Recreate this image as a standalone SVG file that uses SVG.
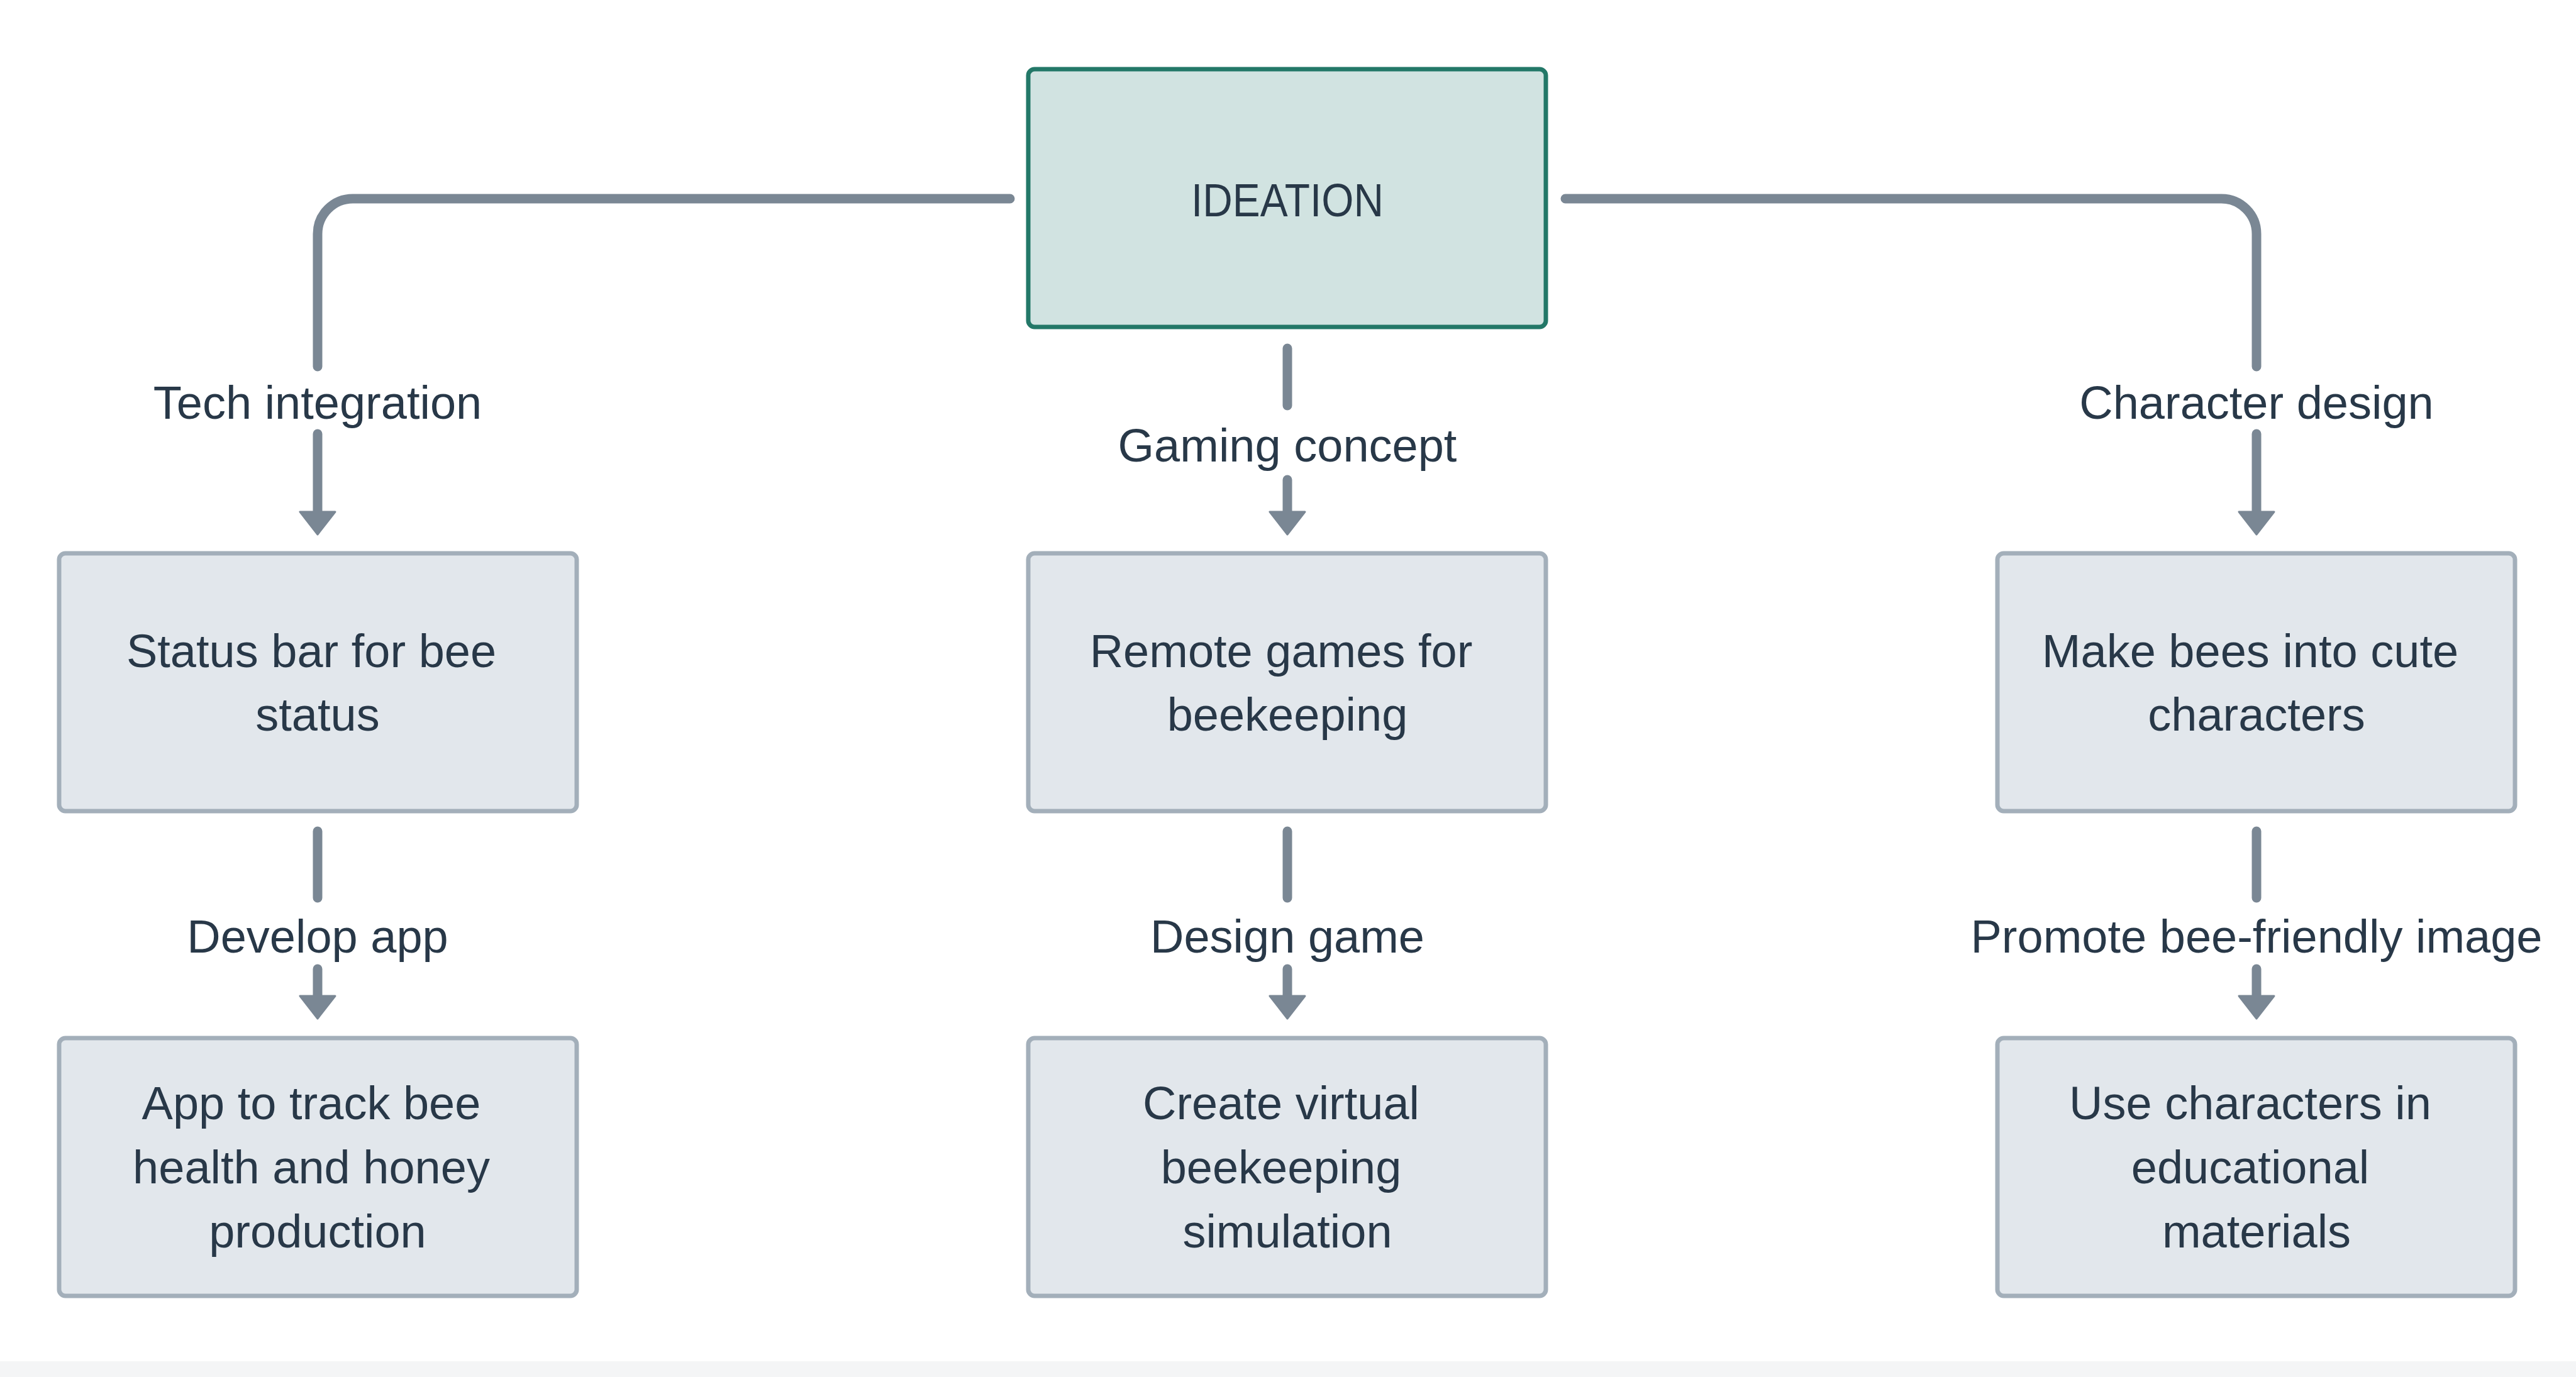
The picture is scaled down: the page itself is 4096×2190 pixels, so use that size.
<svg xmlns="http://www.w3.org/2000/svg" width="4096" height="2190" viewBox="0 0 4096 2190">
<style>
text{font-family:"Liberation Sans",Arial,sans-serif;font-size:74px;fill:#283848;text-anchor:middle}
.node{fill:#e2e7ec;stroke:#a3afba;stroke-width:7}
.root{fill:#d1e3e1;stroke:#237868;stroke-width:7}
.conn{fill:none;stroke:#7a8794;stroke-width:15;stroke-linecap:round;stroke-linejoin:round}
.arr{marker-end:url(#ah)}
</style>
<defs>
<marker id="ah" markerUnits="userSpaceOnUse" markerWidth="60" markerHeight="64" viewBox="0 0 60 64" refX="18" refY="32" orient="auto">
<path d="M2,4 L38,32 L2,60 Z" fill="#7a8794" stroke="#7a8794" stroke-width="3" stroke-linejoin="round"/>
</marker>
</defs>
<rect x="0" y="0" width="4096" height="2190" fill="#ffffff"/>
<rect x="0" y="2165" width="4096" height="25" fill="#f4f5f6"/>
<g id="connectors">
<path class="conn" d="M1606,316 H561 A56,56 0 0 0 505,372 V583"/>
<path class="conn arr" d="M505,690 V830"/>
<path class="conn" d="M2047,554 V645"/>
<path class="conn arr" d="M2047,763 V830"/>
<path class="conn" d="M2489,316 H3532 A56,56 0 0 1 3588,372 V583"/>
<path class="conn arr" d="M3588,690 V830"/>
<path class="conn" d="M505,1322 V1428"/>
<path class="conn arr" d="M505,1541 V1600"/>
<path class="conn" d="M2047,1322 V1428"/>
<path class="conn arr" d="M2047,1541 V1600"/>
<path class="conn" d="M3588,1322 V1428"/>
<path class="conn arr" d="M3588,1541 V1600"/>
<text x="505" y="666">Tech integration</text>
<text x="2047" y="734">Gaming concept</text>
<text x="3588" y="666">Character design</text>
<text x="505" y="1515">Develop app</text>
<text x="2047" y="1515">Design game</text>
<text x="3588" y="1515">Promote bee-friendly image</text>
</g>
<g id="ideation">
<rect class="root" x="1635" y="110" width="823" height="410" rx="10"/>
<text x="2047" y="344" textLength="306" lengthAdjust="spacingAndGlyphs">IDEATION</text>
</g>
<g id="status-bar">
<rect class="node" x="94" y="880" width="823" height="410" rx="10"/>
<text x="495" y="1061">Status bar for bee</text>
<text x="505" y="1162">status</text>
</g>
<g id="remote-games">
<rect class="node" x="1635" y="880" width="823" height="410" rx="10"/>
<text x="2037" y="1061">Remote games for</text>
<text x="2047" y="1162">beekeeping</text>
</g>
<g id="cute-characters">
<rect class="node" x="3176" y="880" width="823" height="410" rx="10"/>
<text x="3578" y="1061">Make bees into cute</text>
<text x="3588" y="1162">characters</text>
</g>
<g id="track-app">
<rect class="node" x="94" y="1651" width="823" height="410" rx="10"/>
<text x="495" y="1780">App to track bee</text>
<text x="495" y="1882">health and honey</text>
<text x="505" y="1984">production</text>
</g>
<g id="simulation">
<rect class="node" x="1635" y="1651" width="823" height="410" rx="10"/>
<text x="2037" y="1780">Create virtual</text>
<text x="2037" y="1882">beekeeping</text>
<text x="2047" y="1984">simulation</text>
</g>
<g id="educational">
<rect class="node" x="3176" y="1651" width="823" height="410" rx="10"/>
<text x="3578" y="1780">Use characters in</text>
<text x="3578" y="1882">educational</text>
<text x="3588" y="1984">materials</text>
</g>
</svg>
